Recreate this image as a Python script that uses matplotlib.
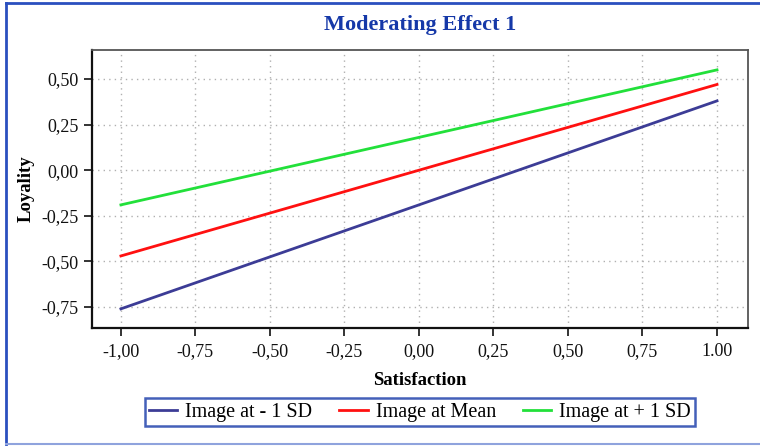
import matplotlib.pyplot as plt
from matplotlib.lines import Line2D

# Data
satisfaction = [-1.0, 1.0]
low_sd = [-0.76, 0.38]
at_mean = [-0.47, 0.47]
high_sd = [-0.19, 0.55]

series_names = ["Image at - 1 SD", "Image at Mean", "Image at + 1 SD"]
series_colors = ["#3c3c96", "#ff1010", "#22e03a"]

x_ticks = [-1.0, -0.75, -0.5, -0.25, 0.0, 0.25, 0.5, 0.75, 1.0]
x_labels = ["-1,00", "-0,75", "-0,50", "-0,25", "0,00", "0,25", "0,50", "0,75", "1.00"]
y_ticks = [-0.75, -0.5, -0.25, 0.0, 0.25, 0.5]
y_labels = ["-0,75", "-0,50", "-0,25", "0,00", "0,25", "0,50"]

plt.rcParams["font.family"] = ["Liberation Serif", "DejaVu Serif"]

fig = plt.figure(figsize=(7.6, 4.46), dpi=100)
ax = fig.add_axes([92 / 760, 1 - 328 / 446, 656 / 760, 278 / 446])

for y, c, name in zip([low_sd, at_mean, high_sd], series_colors, series_names):
    ax.plot(satisfaction, y, color=c, linewidth=2, label=name)

ax.set_xlim(-1.097, 1.104)
ax.set_ylim(-0.865, 0.659)
ax.set_xticks(x_ticks)
ax.set_xticklabels(x_labels)
ax.set_yticks(y_ticks)
ax.set_yticklabels(y_labels)
ax.tick_params(direction="out", length=6, width=1.2, labelsize=13, colors="#111111")
ax.tick_params(axis="x", pad=14.5)
for lab in ax.get_xticklabels():
    lab.set_verticalalignment("baseline")
ax.grid(True, linestyle=(0, (1, 3)), color="#b0b0b0", linewidth=1)

for side in ["left", "bottom"]:
    ax.spines[side].set_linewidth(1.6)
    ax.spines[side].set_color("#111111")
for side in ["top", "right"]:
    ax.spines[side].set_linewidth(1.3)
    ax.spines[side].set_color("#555555")

ax.set_xlabel("Satisfaction", fontsize=13.5, fontweight="bold", labelpad=8)
ax.set_ylabel("Loyality", fontsize=13.5, fontweight="bold", labelpad=5)

fig.text(420 / 760, 1 - 25 / 446, "Moderating Effect 1", ha="center", va="center",
         fontsize=16, fontweight="bold", color="#1538a8")

leg = fig.legend(loc="center", bbox_to_anchor=(420 / 760, 1 - 412 / 446), ncol=3,
                 fontsize=14.5, frameon=True, fancybox=False, handlelength=1.4,
                 columnspacing=1.35, handletextpad=0.4, borderpad=0.2, borderaxespad=0)
leg.get_frame().set_edgecolor("#1538a8")
leg.get_frame().set_linewidth(1.8)

# outer frame of the figure
fig.add_artist(Line2D([6 / 760, 6 / 760], [0.005, 1 - 3 / 446], transform=fig.transFigure,
                      color="#2a4fbf", linewidth=2))
fig.add_artist(Line2D([6 / 760, 1], [1 - 3 / 446, 1 - 3 / 446], transform=fig.transFigure,
                      color="#2a4fbf", linewidth=2))
fig.add_artist(Line2D([6 / 760, 1], [1 - 444 / 446, 1 - 444 / 446], transform=fig.transFigure,
                      color="#8fa3dd", linewidth=1.5))

fig.savefig("out.png", dpi=100)
